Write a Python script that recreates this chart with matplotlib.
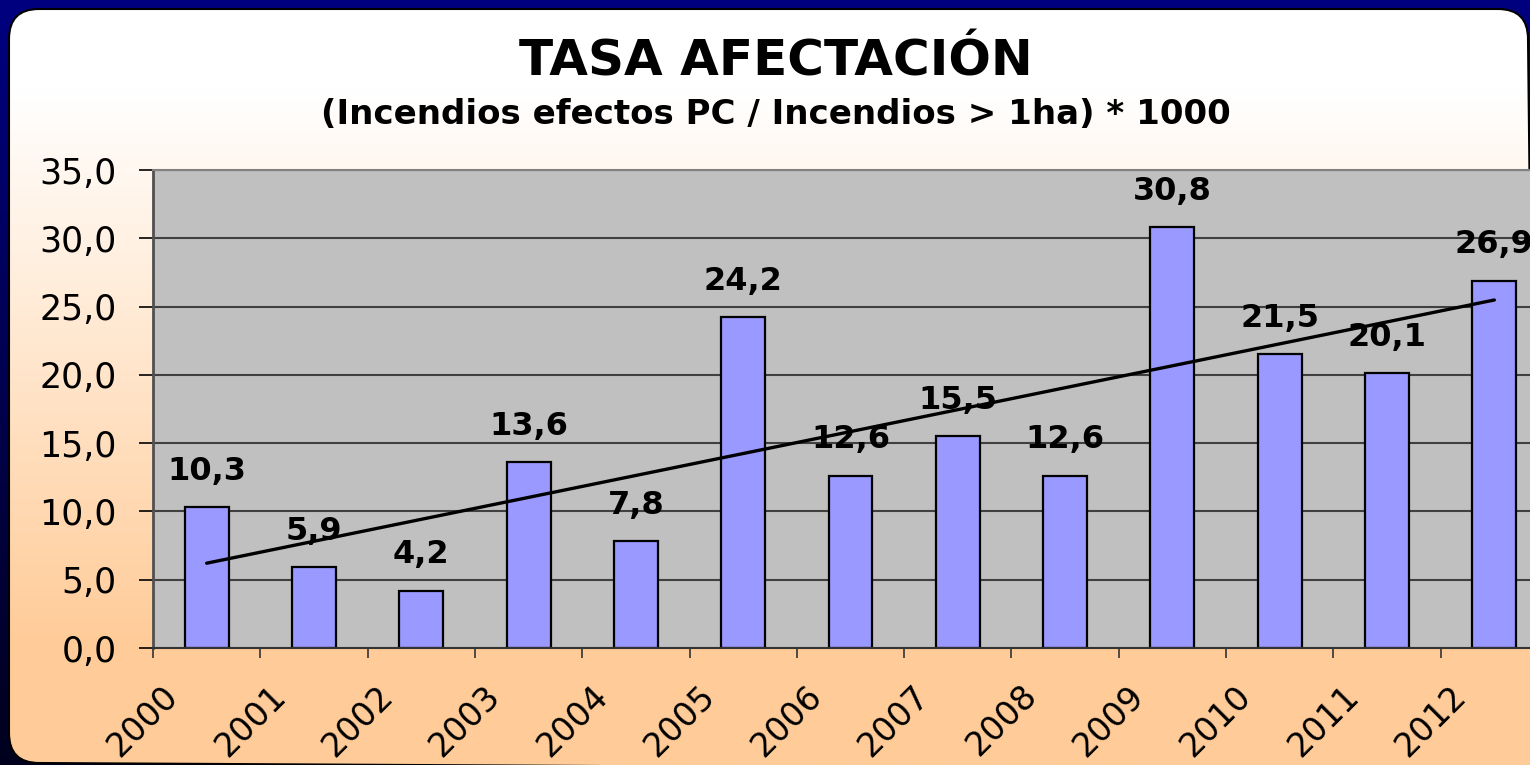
import numpy as np
import matplotlib
matplotlib.use('Agg')
import matplotlib.pyplot as plt
from matplotlib.patches import PathPatch
from matplotlib.path import Path
from matplotlib.colors import to_rgb
import matplotlib.transforms as mtransforms

years = ['2000', '2001', '2002', '2003', '2004', '2005', '2006',
         '2007', '2008', '2009', '2010', '2011', '2012']
values = [10.3, 5.9, 4.2, 13.6, 7.8, 24.2, 12.6, 15.5, 12.6, 30.8, 21.5, 20.1, 26.9]
yticks = [0, 5, 10, 15, 20, 25, 30, 35]
title = 'TASA AFECTACIÓN'
subtitle = '(Incendios efectos PC / Incendios > 1ha) * 1000'

W, H = 1530, 765
fig = plt.figure(figsize=(W / 100, H / 100), dpi=100)

# ---- background (navy gradient + rounded gradient panel)
bg = fig.add_axes([0, 0, 1, 1])
bg.set_xlim(0, W)
bg.set_ylim(H, 0)
bg.axis('off')
ys = (np.arange(H) + 0.5) / H
ctop = np.array(to_rgb('#000080'))
cbot = np.array(to_rgb('#00001E'))
navy = (ctop[None, :] * (1 - ys[:, None]) + cbot[None, :] * ys[:, None])[:, None, :]
bg.imshow(navy, extent=[0, W, H, 0], aspect='auto', zorder=0, interpolation='bilinear')

yp = np.arange(H) + 0.5
t = np.clip((yp - 90) / (640 - 90), 0, 1)
cw = np.array(to_rgb('#FFFFFF'))
cp = np.array(to_rgb('#FFCC99'))
pan = (cw[None, :] * (1 - t[:, None]) + cp[None, :] * t[:, None])[:, None, :]
im = bg.imshow(pan, extent=[0, W, H, 0], aspect='auto', zorder=1, interpolation='bilinear')

# panel outline: rounded top-left, top-right, bottom-left; bottom-right runs off the image
x0, y0, x1, y1, r = 9, 9, 1528, 763, 30
verts = [(x0 + r, y0), (x1 - r, y0), (x1, y0), (x1, y0 + r),
         (x1 + 8, y1 + 8), (x0 + r, y1), (x0, y1), (x0, y1 - r),
         (x0, y0 + r), (x0, y0), (x0 + r, y0), (x0 + r, y0)]
codes = [Path.MOVETO, Path.LINETO, Path.CURVE3, Path.CURVE3,
         Path.LINETO, Path.LINETO, Path.CURVE3, Path.CURVE3,
         Path.LINETO, Path.CURVE3, Path.CURVE3, Path.CLOSEPOLY]
panel = PathPatch(Path(verts, codes), facecolor='none', edgecolor='black',
                  linewidth=1.5, zorder=2)
bg.add_patch(panel)
im.set_clip_path(panel)

# ---- titles
fig.text(776 / W, 1 - 61 / H, title, ha='center', va='center',
         fontsize=36, fontweight='bold', color='black')
fig.text(776 / W, 1 - 115 / H, subtitle, ha='center', va='center',
         fontsize=24.5, fontweight='bold', color='black')

# ---- main axes
ax = fig.add_axes([153 / W, (H - 648) / H, 1395 / W, 478 / H])
ax.set_zorder(3)
ax.set_facecolor('#C0C0C0')
x = np.arange(len(values))
ax.set_xlim(-0.5, len(values) - 0.5)
ax.set_ylim(0, 35)
for yv in yticks[1:]:
    ax.axhline(yv, color='#404040', linewidth=1.5, zorder=1)

ax.bar(x, values, width=0.41, color='#9999FF', edgecolor='black', linewidth=1.6, zorder=2)

coef = np.polyfit(x, values, 1)
ax.plot([x[0], x[-1]], np.polyval(coef, [x[0], x[-1]]), color='black', linewidth=2.4,
        solid_capstyle='round', zorder=4)

for xi, v in zip(x, values):
    ax.annotate(f'{v:.1f}'.replace('.', ','), (xi, v), xytext=(0, 26),
                textcoords='offset points', ha='center', va='center',
                fontsize=23, fontweight='bold', color='black', zorder=5,
                annotation_clip=False)

ax.set_yticks(yticks)
ax.set_yticklabels([f'{v:.1f}'.replace('.', ',') for v in yticks], fontsize=25)
ax.tick_params(axis='y', length=10, width=1.2, pad=16, color='black')
ax.set_xticks(np.arange(len(values) + 1) - 0.5)
ax.set_xticklabels([])
ax.tick_params(axis='x', length=7, width=1.2, color='#333333')

off = mtransforms.ScaledTranslation(0, -0.31, fig.dpi_scale_trans)
for xi, lab in zip(x, years):
    ax.text(xi - 0.42, 0, lab, transform=ax.get_xaxis_transform() + off,
            rotation=45, rotation_mode='anchor', ha='right', va='top',
            fontsize=24, color='black', clip_on=False)

ax.spines['top'].set_color('#808080')
ax.spines['top'].set_linewidth(1.5)
ax.spines['left'].set_color('#505050')
ax.spines['left'].set_linewidth(2)
ax.spines['bottom'].set_color('#333333')
ax.spines['bottom'].set_linewidth(1.5)
ax.spines['right'].set_visible(False)

fig.savefig('out.png', dpi=100)
